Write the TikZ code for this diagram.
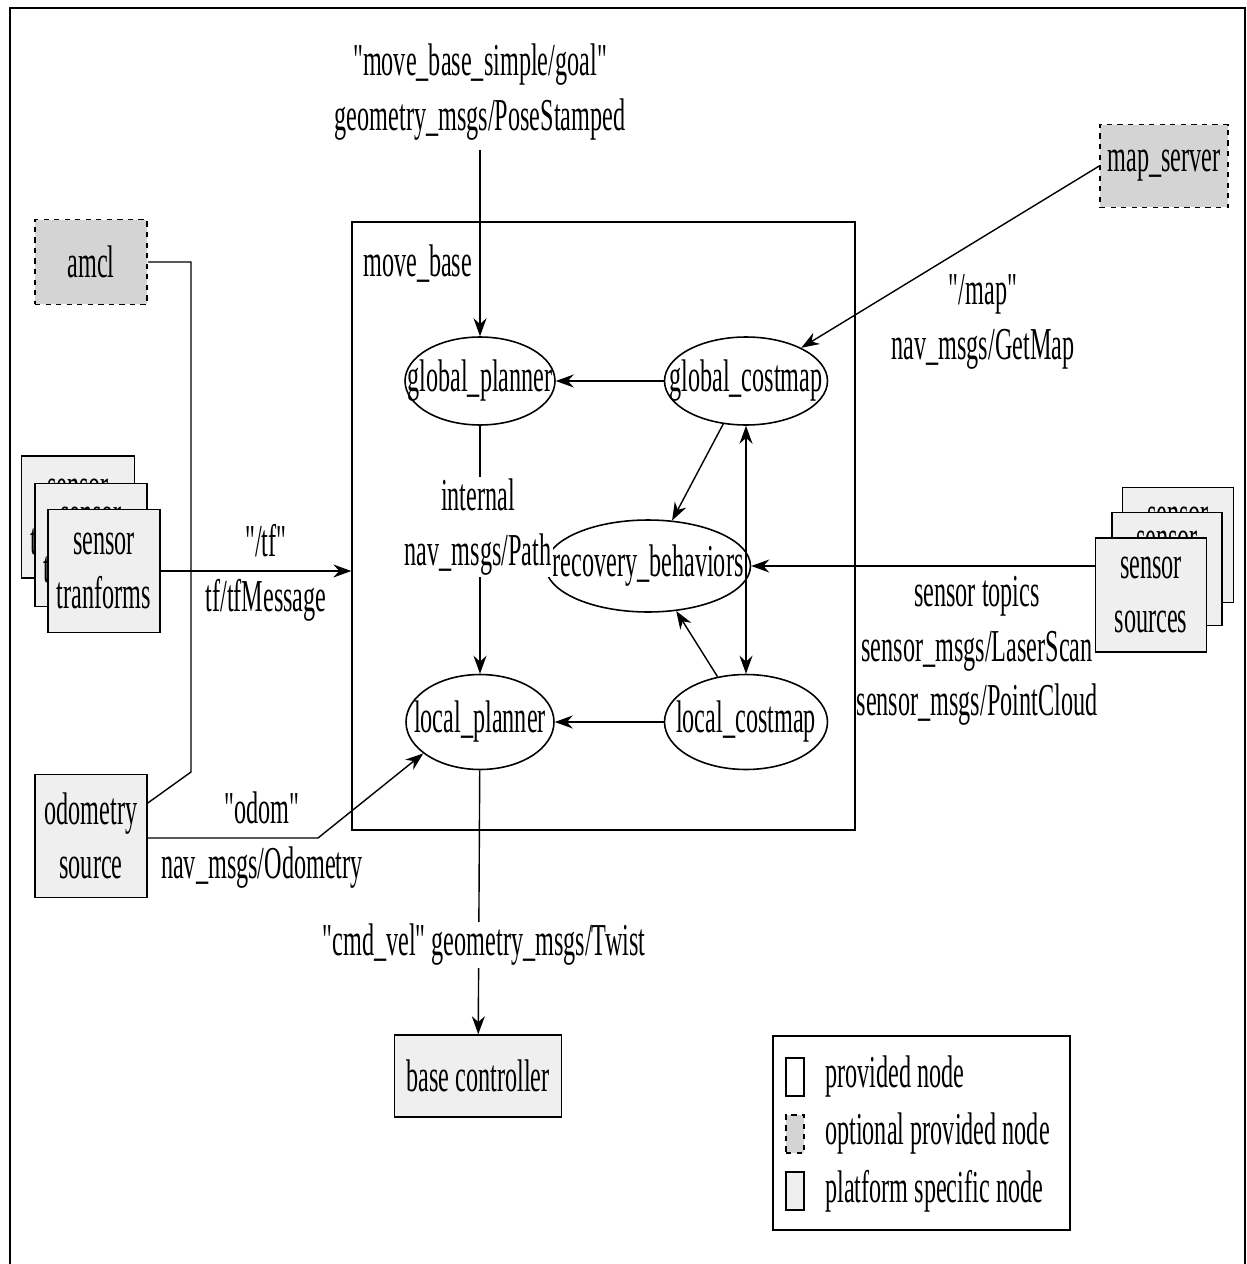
\documentclass[tikz,border=0pt]{standalone}
\usepackage{fontspec}
\setmainfont[FakeStretch=0.53, Ligatures=TeXOff]{Liberation Serif}
\usetikzlibrary{arrows.meta,shapes.geometric}

\definecolor{optfill}{HTML}{D4D4D4}
\definecolor{platfill}{HTML}{EFEFEF}

\begin{document}
\begin{tikzpicture}[x=0.02cm, y=-0.02cm, font=\fontsize{26}{31}\selectfont]
	\tikzset{proc/.style = {shape=ellipse, draw, line width=0.9pt, inner xsep=-0.46cm, inner ysep=0pt, minimum height=1.76cm}}
	\tikzset{optbox/.style = {draw, dashed, line width=0.9pt, fill=optfill, inner sep=0pt}}
	\tikzset{platbox/.style = {draw, line width=0.9pt, fill=platfill, inner sep=0pt, align=center}}
	\tikzset{edge/.style = {->, line width=0.8pt, > = {Stealth[length=0.36cm, width=0.26cm]}}}
	\tikzset{wire/.style = {line width=0.8pt}}
	\tikzset{lbl/.style = {inner sep=1pt, align=center}}
	\useasboundingbox (0,0) rectangle (1247,1264);
	% outer frame
	\draw[line width=1.4pt] (10,1290) -- (10,8) -- (1245,8) -- (1245,1290);

	% move_base and its parts
	\node[draw, line width=0.8pt, minimum width=10.06cm, minimum height=12.16cm] (movebase) at (603.5,526) {};
	\node[anchor=west] (mbname) at (357,264) {move\_base};
	\node[proc, minimum width=3.0cm] (gplan) at (480,381) {global\_planner};
	\node[proc, minimum width=3.26cm] (gcost) at (746,381) {global\_costmap};
	\node[proc, minimum width=3.86cm, minimum height=1.84cm] (recov) at (648,566) {recovery\_behaviors};
	\node[proc, minimum width=2.96cm, minimum height=1.9cm] (lplan) at (480,722) {local\_planner};
	\node[proc, minimum width=3.26cm, minimum height=1.9cm] (lcost) at (746,722) {local\_costmap};

	% outside nodes
	\node[optbox, minimum width=2.24cm, minimum height=1.7cm] (amcl) at (91,262) {amcl};
	\node[optbox, minimum width=2.56cm, minimum height=1.66cm] (mapsrv) at (1164,166) {map\_server};
	\node[platbox, minimum width=2.24cm, minimum height=2.46cm] (odom) at (91,836) {odometry\\source};
	\node[platbox, minimum width=3.34cm, minimum height=1.64cm] (base) at (478,1076) {base controller};
	\node[platbox, minimum width=2.26cm, minimum height=2.44cm] (tfback) at (78,517) {sensor\\tranforms};
	\node[platbox, minimum width=2.24cm, minimum height=2.46cm] (tfmid) at (91,545) {sensor\\tranforms};
	\node[platbox, minimum width=2.24cm, minimum height=2.46cm] (tf) at (104,571) {sensor\\tranforms};
	\node[platbox, minimum width=2.22cm, minimum height=2.3cm] (srcback) at (1178,545) {sensor\\sources};
	\node[platbox, minimum width=2.2cm, minimum height=2.26cm] (srcmid) at (1167,569) {sensor\\sources};
	\node[platbox, minimum width=2.22cm, minimum height=2.28cm] (src) at (1151,595) {sensor\\sources};

	% topics
	\coordinate (goal) at (480,150);
	\node[lbl] (goallbl) at (480,92) {"move\_base\_simple/goal"\\geometry\_msgs/PoseStamped};
	\draw[edge] (goal) -- (gplan);
	\draw[edge] (gcost) -- (gplan);
	\draw[edge] (gplan) -- (lplan);
	\node[lbl, fill=white] (pathlbl) at (478,527) {internal\\nav\_msgs/Path};
	\draw[edge] (lcost) -- (lplan);
	\draw[edge] (gcost) -- (recov);
	\draw[edge] (lcost) -- (recov);
	\draw[edge, <->] (gcost) -- (lcost);
	\draw[edge] (src.west |- recov) -- (recov);
	\node[lbl] (scanlbl) at (977,651) {sensor topics\\sensor\_msgs/LaserScan\\sensor\_msgs/PointCloud};
	\draw[edge] (mapsrv.west) -- (gcost.31);
	\node[lbl] (maplbl) at (983,322) {"/map"\\nav\_msgs/GetMap};
	\draw[edge] (tf.east) -- (tf -| movebase.west);
	\node[lbl] (tflbl) at (266,573) {"/tf"\\tf/tfMessage};
	\coordinate (amclbend) at (191,772);
	\draw[wire] (amcl.east) -- (191,262) -- (amclbend) -- ([yshift=0.66cm]odom.east);
	\coordinate (odombend) at (318,838);
	\draw[edge] (odom.east |- odombend) -- (odombend) -- (lplan.209);
	\node[lbl] (odomlbl) at (262,840) {"odom"\\nav\_msgs/Odometry};
	\draw[edge] (lplan) -- (base);
	\node[lbl, fill=white] (cmdlbl) at (484,945) {"cmd\_vel" geometry\_msgs/Twist};

	% legend
	\node[draw, line width=0.9pt, minimum width=5.94cm, minimum height=3.88cm] (legend) at (921.5,1133) {};
	\node[draw, line width=0.9pt, fill=white, minimum width=0.36cm, minimum height=0.76cm] (keyprov) at (795,1077) {};
	\node[optbox, minimum width=0.36cm, minimum height=0.76cm] (keyopt) at (795,1134) {};
	\node[platbox, minimum width=0.36cm, minimum height=0.76cm] (keyplat) at (795,1191) {};
	\node[anchor=west] at (819,1077) {provided node};
	\node[anchor=west] at (819,1134) {optional provided node};
	\node[anchor=west] at (819,1191) {platform specific node};
\end{tikzpicture}
\end{document}
